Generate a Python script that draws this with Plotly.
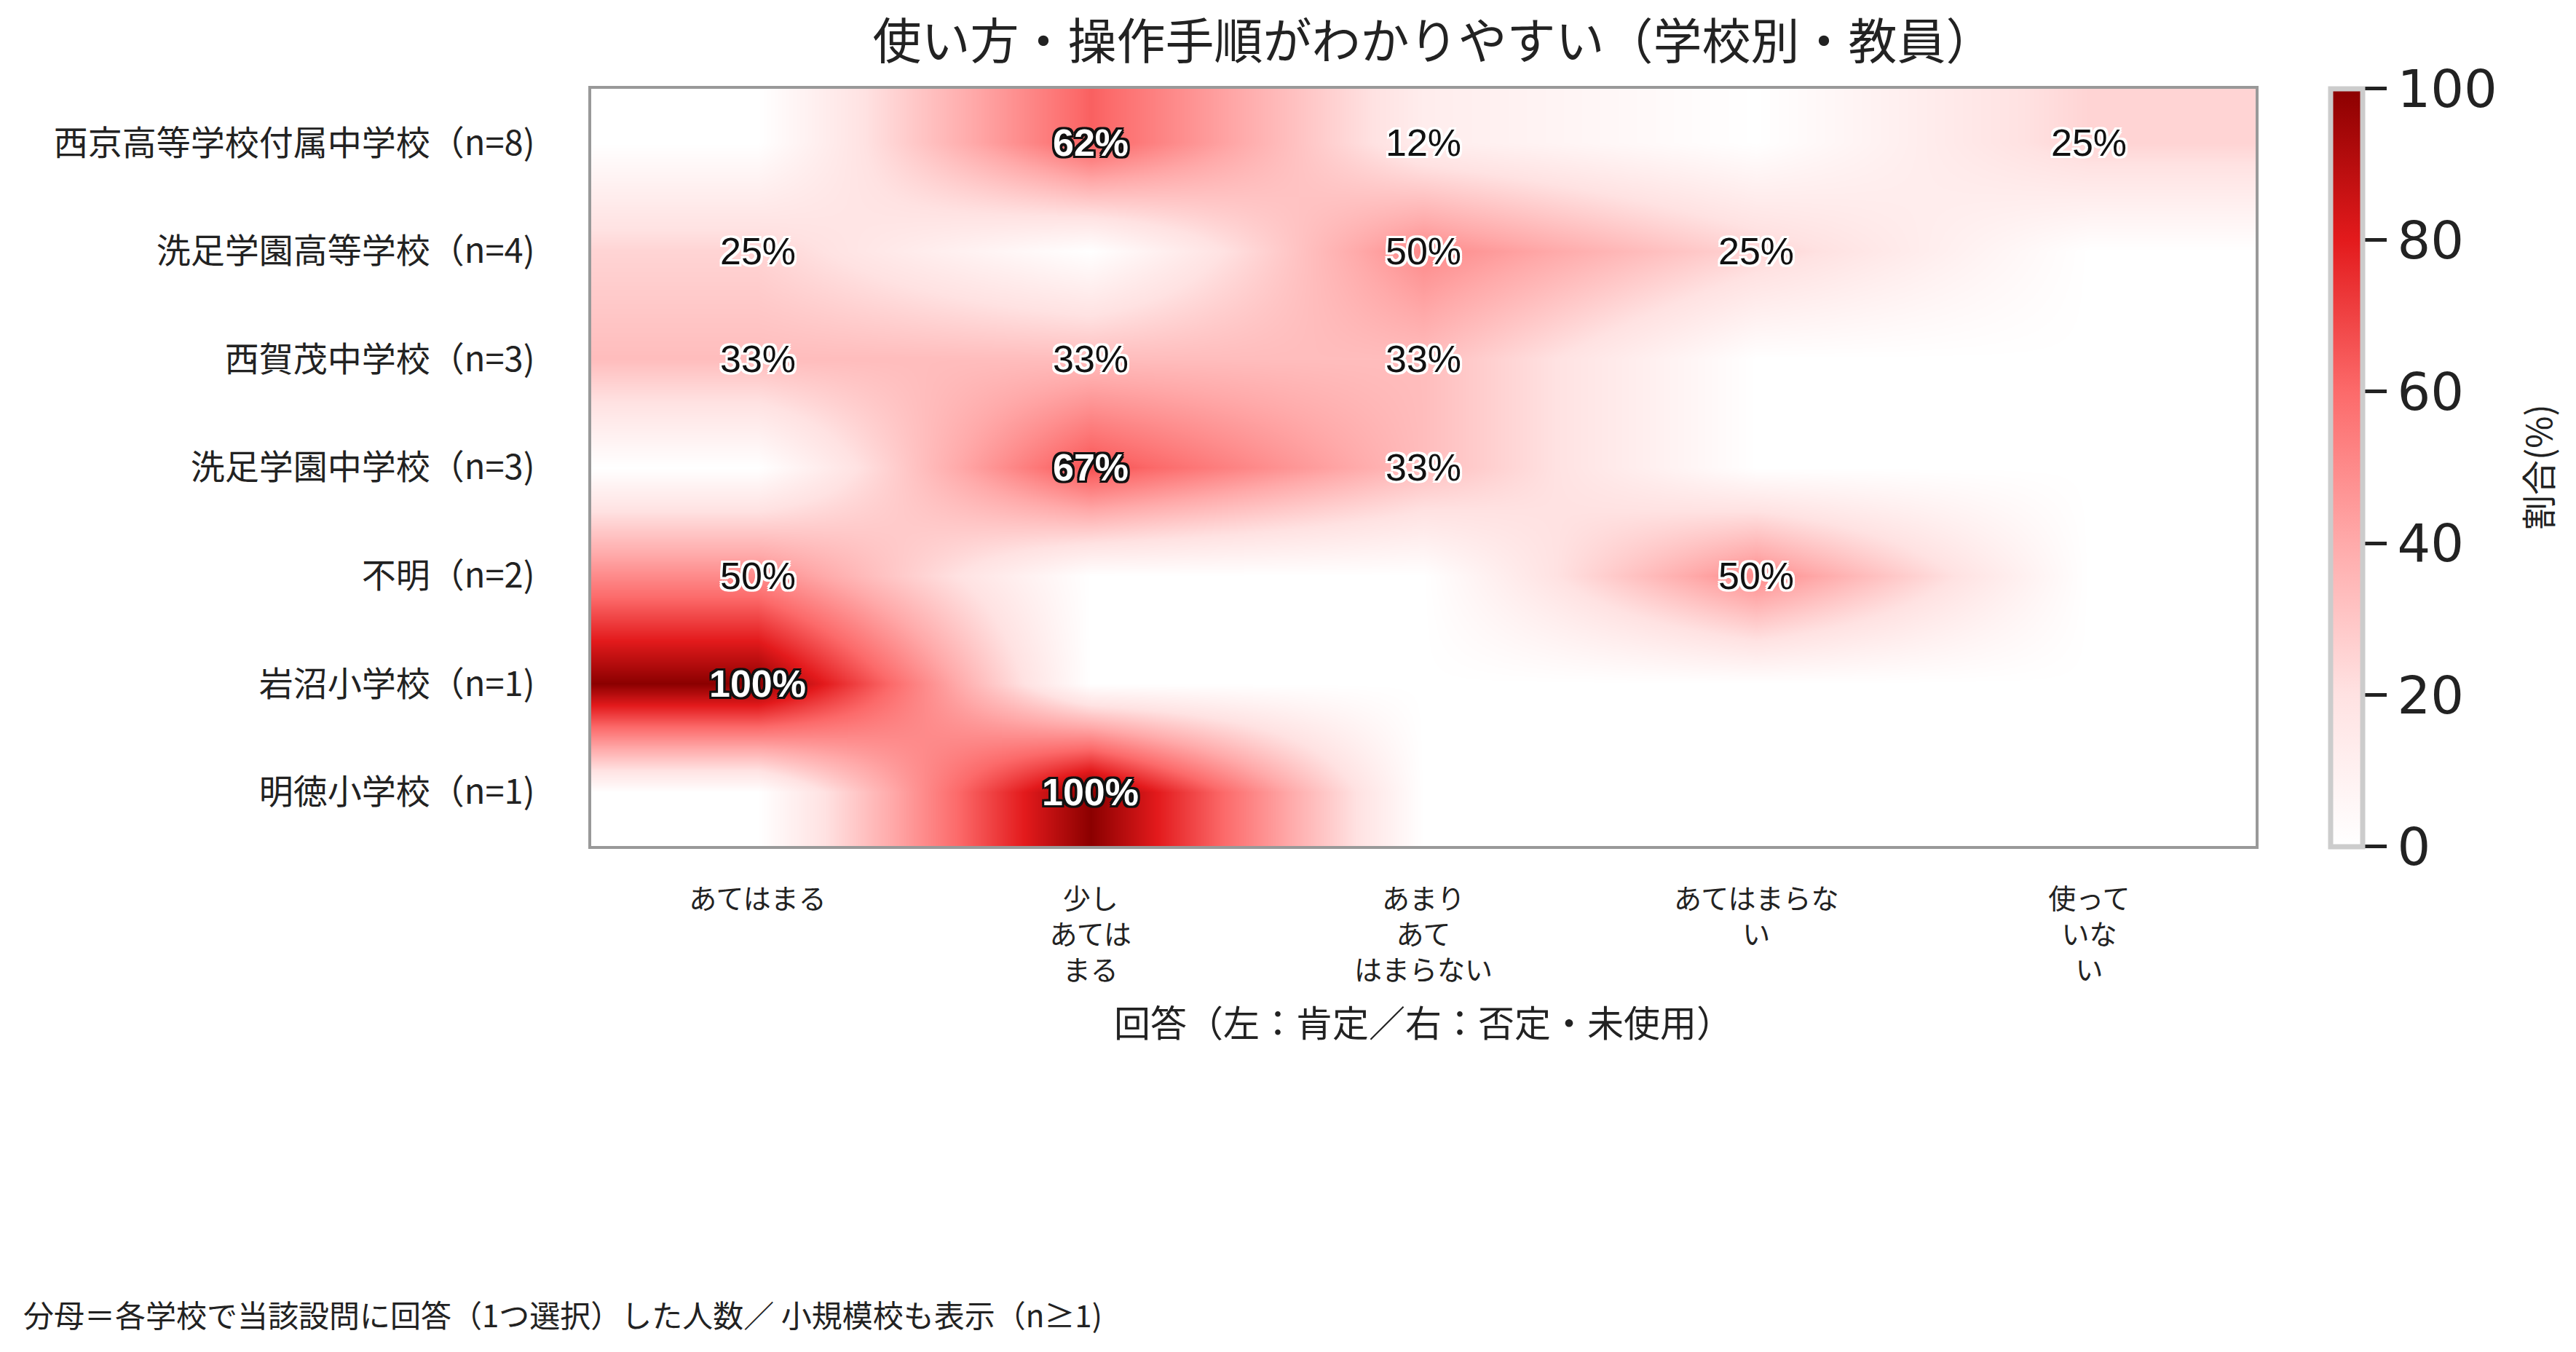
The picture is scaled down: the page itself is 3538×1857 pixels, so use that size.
import plotly.graph_objects as go

schools = ["西京高等学校付属中学校", "洗足学園高等学校", "西賀茂中学校", "洗足学園中学校",
           "不明", "岩沼小学校", "明徳小学校"]
n_resp = [8, 4, 3, 3, 2, 1, 1]
answers = ["あてはまる", "少しあてはまる", "あまりあてはまらない", "あてはまらない", "使っていない"]
answer_ticks = ["あてはまる", "少し<br>あては<br>まる", "あまり<br>あて<br>はまらない", "あてはまらな<br>い", "使って<br>いな<br>い"]
counts = [
    [0, 5, 1, 0, 2],
    [1, 0, 2, 1, 0],
    [1, 1, 1, 0, 0],
    [0, 2, 1, 0, 0],
    [1, 0, 0, 1, 0],
    [1, 0, 0, 0, 0],
    [0, 1, 0, 0, 0],
]

row_labels = [f"{s}（n={n})" for s, n in zip(schools, n_resp)]
pct = [[c / n * 100 for c in row] for row, n in zip(counts, n_resp)]

JP = "Noto Sans CJK JP"
colorscale = [[0.0, "#ffffff"], [0.2, "#ffe2e2"], [0.4, "#ffaaaa"], [0.6, "#fc6a6a"],
              [0.8, "#e31a1c"], [1.0, "#8b0000"]]

fig = go.Figure()
fig.add_trace(go.Heatmap(
    z=pct, x=answers, y=row_labels,
    zmin=0, zmax=100, zsmooth="best",
    colorscale=colorscale,
    colorbar=dict(
        thickness=44, len=1.02, lenmode="fraction", y=0.5, yanchor="middle",
        x=1.0405, xanchor="left",
        outlinewidth=7, outlinecolor="#cccccc",
        ticks="outside", ticklen=30, tickwidth=5, tickcolor="#222",
        tickvals=[0, 20, 40, 60, 80, 100],
        tickfont=dict(size=72, family="DejaVu Sans", color="#222"),
    ),
    hovertemplate="%{y}<br>%{x}: %{z:.0f}%<extra></extra>",
))

def outline(col, w=3):
    offs = [(-w, -w), (w, -w), (-w, w), (w, w), (0, w), (0, -w), (w, 0), (-w, 0)]
    return ", ".join(f"{dx}px {dy}px 0 {col}" for dx, dy in offs)

for i, row in enumerate(pct):
    for j, v in enumerate(row):
        if v <= 0:
            continue
        strong = v >= 60
        fig.add_annotation(
            x=answers[j], y=row_labels[i], text=f"{v:.0f}%", showarrow=False,
            font=dict(size=52, family="Liberation Sans",
                      color="#ffffff" if strong else "#111111",
                      weight="bold" if strong else "normal",
                      shadow=outline("#111111" if strong else "#ffffff")),
        )

# colorbar title (rotated text to the right of the tick labels)
fig.add_annotation(
    x=1.0, y=0.5, xref="paper", yref="paper", xanchor="center", yanchor="middle",
    xshift=386, showarrow=False, textangle=-90,
    text="割合(%)", font=dict(size=48, family=JP, color="#222"),
)

# x-axis title
fig.add_annotation(
    x=0.5, y=0, xref="paper", yref="paper", xanchor="center", yanchor="middle",
    yshift=-240, showarrow=False,
    text="回答（左：肯定／右：否定・未使用）", font=dict(size=50, family=JP, color="#222"),
)

fig.add_annotation(
    x=0, y=0, xref="paper", yref="paper", xanchor="left", yanchor="bottom",
    xshift=-782, yshift=-675, showarrow=False,
    text="分母＝各学校で当該設問に回答（1つ選択）した人数／ 小規模校も表示（n≥1)",
    font=dict(size=42, family=JP, color="#222"),
)

fig.update_layout(
    width=3538, height=1857,
    margin=dict(l=812, r=440, t=122, b=695),
    paper_bgcolor="white", plot_bgcolor="white",
    title=dict(text="使い方・操作手順がわかりやすい（学校別・教員）", x=0.5565, xanchor="center",
               y=0.969, yanchor="middle", font=dict(size=67, family=JP, color="#222")),
    font=dict(family=JP, color="#222"),
    xaxis=dict(
        tickmode="array", tickvals=answers, ticktext=answer_ticks,
        tickfont=dict(size=38, family=JP, color="#222"),
        showline=True, mirror=True, linecolor="#999999", linewidth=4,
        showgrid=False, zeroline=False, ticks="", ticklabelstandoff=36,
    ),
    yaxis=dict(
        autorange="reversed",
        tickfont=dict(size=47, family=JP, color="#222"),
        showline=True, mirror=True, linecolor="#999999", linewidth=4,
        showgrid=False, zeroline=False, ticks="", ticklabelstandoff=64,
    ),
)

fig.write_html("out.html")
